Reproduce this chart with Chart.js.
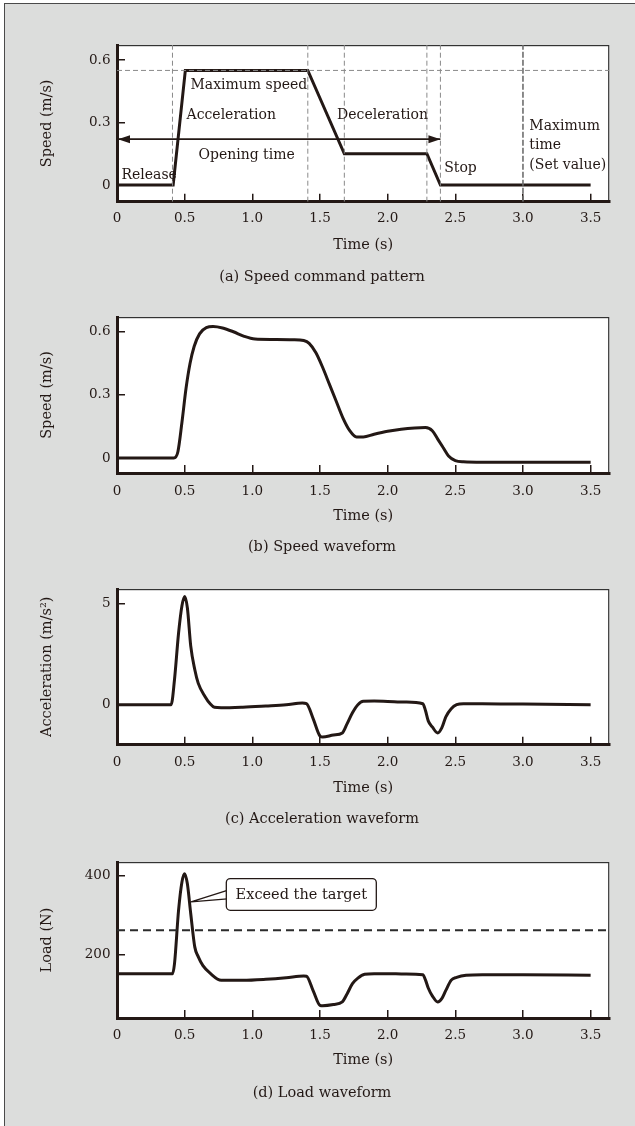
<!DOCTYPE html>
<html><head><meta charset="utf-8">
<script src="https://cdn.jsdelivr.net/npm/chart.js@4.4.1/dist/chart.umd.min.js"></script>
<style>
html,body{margin:0;padding:0;background:#fff;width:635px;height:1126px;overflow:hidden;}
#panel{position:absolute;left:4px;top:3px;width:650px;height:1140px;background:#dcdddc;border-left:1.2px solid #4a4a4a;border-top:1.2px solid #4a4a4a;}
canvas{position:absolute;left:0;}
</style></head><body>
<div id="panel"></div>
<canvas id="c0"></canvas>
<canvas id="c1"></canvas>
<canvas id="c2"></canvas>
<canvas id="c3"></canvas>
<script>
// ---------------- DATA ----------------
const xTicks = [0, 0.5, 1, 1.5, 2, 2.5, 3, 3.5];
const xTickLabels = ['0', '0.5', '1.0', '1.5', '2.0', '2.5', '3.0', '3.5'];

// (a) speed command pattern
const cmdTime  = [0, 0.415, 0.505, 1.41, 1.68, 2.29, 2.39, 3.5];
const cmdSpeed = [0, 0,     0.55,  0.55, 0.15, 0.15, 0,    0];
const guideTimes = [0.41, 1.41, 1.68, 2.29, 2.39];
const maxTimeSetting = 3.0;
const maxSpeedCmd = 0.55;
const openingTime = [0, 2.39];
const openingLevel = 0.22;
const speedTicks = [0, 0.3, 0.6];
const speedTickLabels = ['0', '0.3', '0.6'];

// (b) speed waveform
const waveTime  = [0, 0.42, 0.45, 0.48, 0.51, 0.54, 0.57, 0.61, 0.66, 0.71, 0.78, 0.86, 0.94, 1.02, 1.15, 1.30, 1.38, 1.42, 1.47, 1.52, 1.57, 1.62, 1.67, 1.72, 1.77, 1.82, 1.90, 2.00, 2.10, 2.20, 2.28, 2.33, 2.37, 2.41, 2.45, 2.50, 2.56, 2.70, 3.00, 3.50];
const waveSpeed = [0, 0, 0.03, 0.17, 0.33, 0.45, 0.53, 0.59, 0.62, 0.625, 0.618, 0.60, 0.578, 0.565, 0.563, 0.562, 0.558, 0.545, 0.50, 0.43, 0.35, 0.27, 0.19, 0.13, 0.10, 0.10, 0.113, 0.127, 0.137, 0.143, 0.145, 0.13, 0.09, 0.05, 0.01, -0.012, -0.018, -0.02, -0.02, -0.02];

// (c) acceleration waveform
const accTime  = [0, 0.40, 0.425, 0.455, 0.48, 0.50, 0.52, 0.545, 0.575, 0.60, 0.65, 0.69, 0.72, 0.77, 0.93, 1.10, 1.25, 1.37, 1.40, 1.45, 1.50, 1.52, 1.60, 1.665, 1.70, 1.74, 1.78, 1.82, 1.90, 2.00, 2.13, 2.26, 2.28, 2.30, 2.33, 2.37, 2.40, 2.43, 2.47, 2.51, 2.56, 2.70, 3.00, 3.50];
const accValue = [0, 0, 1.25, 3.55, 4.9, 5.36, 4.8, 2.9, 1.73, 1.07, 0.41, 0.03, -0.13, -0.15, -0.12, -0.06, 0.0, 0.08, 0.05, -0.7, -1.55, -1.6, -1.5, -1.4, -0.95, -0.4, 0.0, 0.17, 0.18, 0.16, 0.13, 0.05, -0.3, -0.8, -1.1, -1.4, -1.15, -0.6, -0.2, 0.0, 0.05, 0.05, 0.03, 0.0];
const accTicks = [0, 5];
const accTickLabels = ['0', '5'];

// (d) load waveform
const loadTime  = [0, 0.41, 0.425, 0.455, 0.48, 0.50, 0.52, 0.545, 0.575, 0.60, 0.635, 0.69, 0.77, 0.93, 1.10, 1.25, 1.38, 1.40, 1.45, 1.50, 1.52, 1.60, 1.665, 1.70, 1.74, 1.78, 1.83, 1.90, 2.00, 2.13, 2.26, 2.28, 2.30, 2.33, 2.37, 2.40, 2.43, 2.47, 2.51, 2.58, 2.70, 3.00, 3.50];
const loadValue = [151, 151, 177, 313, 385, 406, 380, 304, 219, 195, 172, 152, 134.5, 134.5, 137, 141, 145.6, 145, 108, 71, 70, 73, 79.6, 100, 126, 140, 150, 151.6, 151.5, 150.5, 149, 135, 115, 95, 79.6, 88, 109, 135, 142, 147.5, 149, 149, 147.5];
const targetLoad = 262;
const loadTicks = [200, 400];
const loadTickLabels = ['200', '400'];

// ---------------- STYLE / LAYOUT ----------------
const FONT = "'DejaVu Serif', serif";
const INK = '#231815';
const X_MIN = 0, X_MAX = 3.638;
const pts = (xs, ys) => xs.map((x, i) => ({x, y: ys[i]}));
const labelOf = (v, vals, labs) => { const i = vals.findIndex(t => Math.abs(t - v) < 1e-9); return i >= 0 ? labs[i] : ''; };

const GEOM = [
  {plotTop: 45,    plotBottom: 201.7,  tickY: 218.3,  titleY: 245,    capY: 277},
  {plotTop: 317.3, plotBottom: 473.3,  tickY: 491.7,  titleY: 516.7,  capY: 547.3},
  {plotTop: 589.3, plotBottom: 745,    tickY: 762.7,  titleY: 788.3,  capY: 819.3},
  {plotTop: 861.7, plotBottom: 1017.7, tickY: 1035,   titleY: 1060,   capY: 1092.7}
];
const PLOT_LEFT = 117, PLOT_RIGHT = 609.3, PAD_LEFT = 34.7;

const framePlugin = {
  id: 'frame',
  beforeDraw(chart) {
    const {ctx, chartArea: a} = chart;
    ctx.save();
    ctx.fillStyle = '#ffffff';
    ctx.fillRect(a.left, a.top, a.right - a.left, a.bottom - a.top);
    ctx.strokeStyle = '#333';
    ctx.lineWidth = 1.2;
    ctx.strokeRect(a.left, a.top + 0.6, a.right - a.left - 0.6, a.bottom - a.top);
    ctx.restore();
  }
};

function makeChart(idx, yOpts, datasets, yTitle, caption, plugins) {
  const g = GEOM[idx];
  const C = g.plotTop - 25;
  const H = Math.round(g.capY + 14 - C);
  const plotH = g.plotBottom - g.plotTop;
  const hx = g.titleY + 8.7 + 4 - g.plotBottom;
  const tpb = (C + H) - g.capY - 8.7;
  const tb = H - 25 - plotH - hx;
  const tpt = tb - 17.4 - tpb;
  const cv = document.getElementById('c' + idx);
  cv.style.top = C + 'px';
  cv.width = 635; cv.height = H;
  cv.style.width = '635px'; cv.style.height = H + 'px';
  return new Chart(cv, {
    type: 'line',
    data: {datasets},
    options: {
      responsive: false, animation: false, devicePixelRatio: 1,
      layout: {padding: {left: PAD_LEFT, right: 635 - PLOT_RIGHT, top: 25, bottom: 0}},
      plugins: {
        legend: {display: false}, tooltip: {enabled: false},
        title: {display: true, position: 'bottom', text: caption, color: INK,
                font: {family: FONT, size: 14.5, weight: 'normal', lineHeight: 1.2},
                padding: {top: tpt, bottom: tpb}}
      },
      elements: {point: {radius: 0}, line: {borderCapStyle: 'butt', borderJoinStyle: 'round'}},
      scales: {
        x: {
          type: 'linear', min: X_MIN, max: X_MAX,
          afterBuildTicks: s => { s.ticks = xTicks.map(v => ({value: v})); },
          afterFit: s => { s.height = hx; },
          border: {display: true, width: 3, color: INK},
          grid: {drawOnChartArea: false, drawTicks: true, tickLength: -8, color: INK, lineWidth: 1.5},
          ticks: {autoSkip: false, maxRotation: 0, color: INK, padding: g.tickY - g.plotBottom - 0.1,
                  font: {family: FONT, size: 13.5, lineHeight: 1.2},
                  callback: v => labelOf(v, xTicks, xTickLabels)},
          title: {display: true, text: 'Time (s)', color: INK, padding: {top: 0, bottom: 4},
                  font: {family: FONT, size: 14.5, lineHeight: 1.2}}
        },
        y: {
          type: 'linear', min: yOpts.min, max: yOpts.max,
          afterBuildTicks: s => { s.ticks = yOpts.ticks.map(v => ({value: v})); },
          afterFit: s => { s.width = PLOT_LEFT - PAD_LEFT; },
          border: {display: true, width: 3, color: INK},
          grid: {drawOnChartArea: false, drawTicks: true, tickLength: -8, color: INK, lineWidth: 1.5},
          ticks: {autoSkip: false, color: INK, padding: 14.5,
                  font: {family: FONT, size: 13.5, lineHeight: 1.2},
                  callback: v => labelOf(v, yOpts.ticks, yOpts.labels)},
          title: {display: true, text: yTitle, color: INK, padding: {top: 47 - PAD_LEFT - 8.7, bottom: 0},
                  font: {family: FONT, size: 14.5, lineHeight: 1.2}}
        }
      }
    },
    plugins: [framePlugin].concat(plugins || [])
  });
}

const curve = (data, extra) => Object.assign({data, borderColor: INK, borderWidth: 3, fill: false,
  cubicInterpolationMode: 'monotone', pointRadius: 0}, extra || {});

// ---------- (a) ----------
const A_MIN = -0.080, A_MAX = 0.672;
const dsA = [];
guideTimes.forEach(t => dsA.push({data: [{x: t, y: A_MIN}, {x: t, y: A_MAX}], borderColor: '#8a8a8a',
  borderWidth: 1, borderDash: [5, 3], pointRadius: 0, tension: 0}));
dsA.push({data: [{x: maxTimeSetting, y: A_MIN}, {x: maxTimeSetting, y: A_MAX}], borderColor: '#6e6e6e',
  borderWidth: 1.6, borderDash: [6, 2], pointRadius: 0, tension: 0});
dsA.push({data: [{x: X_MIN, y: maxSpeedCmd}, {x: X_MAX, y: maxSpeedCmd}], borderColor: '#8a8a8a',
  borderWidth: 1, borderDash: [5, 3], pointRadius: 0, tension: 0});
dsA.push({data: openingTime.map(t => ({x: t, y: openingLevel})), borderColor: INK, borderWidth: 1.8,
  pointRadius: 0, tension: 0});
const ARROW_IDX = dsA.length - 1;
dsA.push(curve(pts(cmdTime, cmdSpeed), {cubicInterpolationMode: 'default', tension: 0, borderJoinStyle: 'miter'}));

const aLabels = [
  {text: 'Maximum speed', t: 0.543, v: 0.480},
  {text: 'Acceleration',  t: 0.514, v: 0.336},
  {text: 'Opening time',  t: 0.602, v: 0.144},
  {text: 'Release',       t: 0.033, v: 0.048},
  {text: 'Deceleration',  t: 1.626, v: 0.336},
  {text: 'Stop',          t: 2.418, v: 0.080},
  {text: 'Maximum',       t: 3.047, v: 0.283},
  {text: 'time',          t: 3.047, v: 0.191},
  {text: '(Set value)',   t: 3.047, v: 0.096}
];
const aDecor = {
  id: 'aDecor',
  afterDatasetsDraw(chart) {
    const {ctx, scales: {x, y}} = chart;
    const m = chart.getDatasetMeta(ARROW_IDX).data;
    ctx.save();
    ctx.fillStyle = INK;
    const head = (px, py, dir) => {
      ctx.beginPath();
      ctx.moveTo(px, py);
      ctx.lineTo(px - dir * 12, py - 4);
      ctx.lineTo(px - dir * 12, py + 4);
      ctx.closePath(); ctx.fill();
    };
    head(m[0].x + 1, m[0].y, -1);
    head(m[1].x, m[1].y, 1);
    ctx.font = '14px ' + FONT;
    ctx.textAlign = 'left'; ctx.textBaseline = 'middle';
    aLabels.forEach(l => ctx.fillText(l.text, x.getPixelForValue(l.t), y.getPixelForValue(l.v)));
    ctx.restore();
  }
};
makeChart(0, {min: A_MIN, max: A_MAX, ticks: speedTicks, labels: speedTickLabels}, dsA,
  'Speed (m/s)', '(a) Speed command pattern', [aDecor]);

// ---------- (b) ----------
makeChart(1, {min: -0.071, max: 0.670, ticks: speedTicks, labels: speedTickLabels},
  [curve(pts(waveTime, waveSpeed))], 'Speed (m/s)', '(b) Speed waveform');

// ---------- (c) ----------
makeChart(2, {min: -1.98, max: 5.73, ticks: accTicks, labels: accTickLabels},
  [curve(pts(accTime, accValue))], 'Acceleration (m/s²)', '(c) Acceleration waveform');

// ---------- (d) ----------
const callout = {text: 'Exceed the target', t: 1.362, v: 353, w: 150, h: 31.7, tipT: 0.547, tipV: 334};
const dDecor = {
  id: 'dDecor',
  afterDatasetsDraw(chart) {
    const {ctx, scales: {x, y}} = chart;
    const cx = x.getPixelForValue(callout.t), cy = y.getPixelForValue(callout.v);
    const tx = x.getPixelForValue(callout.tipT), ty = y.getPixelForValue(callout.tipV);
    const l = cx - callout.w / 2, tp = cy - callout.h / 2;
    ctx.save();
    ctx.strokeStyle = INK; ctx.lineWidth = 1.3;
    ctx.beginPath();
    ctx.moveTo(l + 1, cy - 4.2); ctx.lineTo(tx, ty);
    ctx.moveTo(l + 1, cy + 4.5); ctx.lineTo(tx, ty);
    ctx.stroke();
    ctx.beginPath();
    ctx.roundRect(l, tp, callout.w, callout.h, 4);
    ctx.fillStyle = '#fff'; ctx.fill(); ctx.stroke();
    ctx.fillStyle = INK;
    ctx.font = '14.5px ' + FONT; ctx.textAlign = 'center'; ctx.textBaseline = 'middle';
    ctx.fillText(callout.text, cx, cy + 0.5);
    ctx.restore();
  }
};
makeChart(3, {min: 38.7, max: 435.6, ticks: loadTicks, labels: loadTickLabels},
  [{data: [{x: X_MIN, y: targetLoad}, {x: X_MAX, y: targetLoad}], borderColor: '#2b2b2b', borderWidth: 1.8,
    borderDash: [8, 5], pointRadius: 0, tension: 0},
   curve(pts(loadTime, loadValue))], 'Load (N)', '(d) Load waveform', [dDecor]);
</script>
</body></html>
